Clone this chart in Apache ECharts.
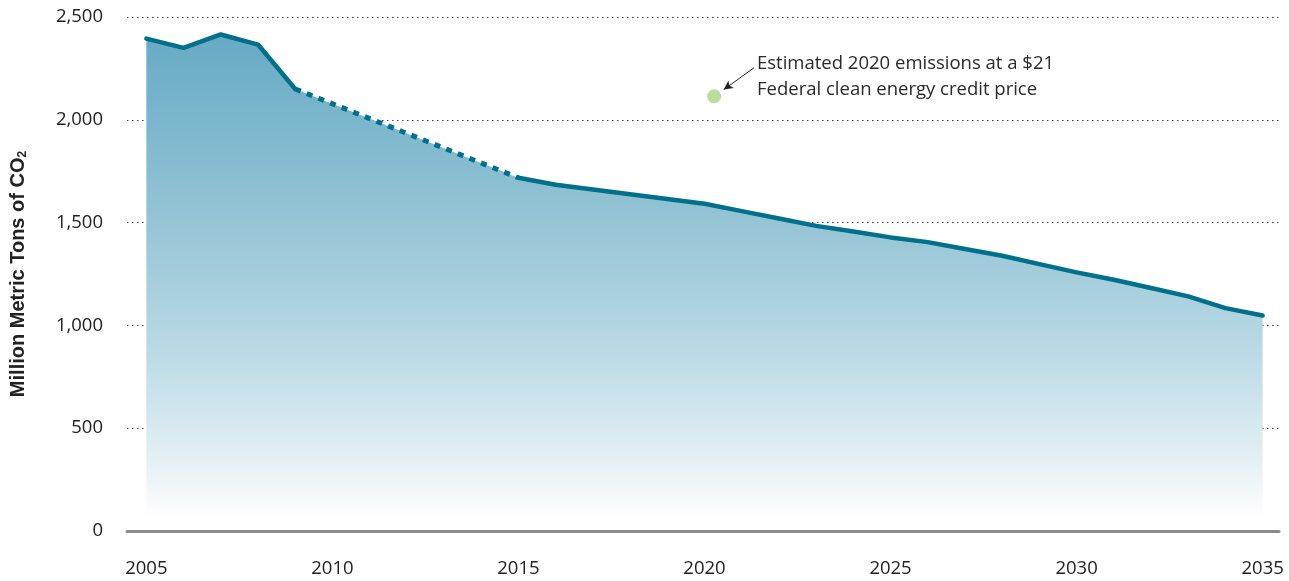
<!DOCTYPE html>
<html>
<head>
<meta charset="utf-8">
<script src="https://cdn.jsdelivr.net/npm/echarts@6/dist/echarts.min.js"></script>
<style>
  html, body { margin: 0; padding: 0; background: #fff; }
  #chart { width: 1289px; height: 581px; }
</style>
</head>
<body>
<div id="chart"></div>
<script>
// emissions, million metric tons of CO2 (2010-2014 lie on the straight dashed stretch)
const years = [2005, 2006, 2007, 2008, 2009, 2015, 2016, 2017, 2018, 2019, 2020,
  2021, 2022, 2023, 2024, 2025, 2026, 2027, 2028, 2029, 2030, 2031, 2032, 2033, 2034, 2035];
const emissions = [2395, 2350, 2415, 2366, 2150, 1718, 1684, 1661, 1638, 1615, 1592,
  1556, 1520, 1484, 1457, 1428, 1405, 1372, 1339, 1298, 1258, 1222, 1182, 1141, 1084, 1048];
const yearTicks = [2005, 2010, 2015, 2020, 2025, 2030, 2035];
const dashFrom = 2009;
const dashTo = 2015;
const estimate2020 = [2020.26, 2114];
const arrowFrom = [2021.33, 2253];
const arrowTo = [2020.52, 2147];
const noteLines = ['Estimated 2020 emissions at a $21', 'Federal clean energy credit price'];

const points = years.map((y, i) => [y, emissions[i]]);
const before = points.filter(p => p[0] <= dashFrom);
const dashed = points.filter(p => p[0] >= dashFrom && p[0] <= dashTo);
const after = points.filter(p => p[0] >= dashTo);

const lineColor = '#00708b';
const tickFont = '"Open Sans", "Noto Sans", sans-serif';
const titleFont = '"Liberation Sans", Arial, sans-serif';

const chart = echarts.init(document.getElementById('chart'));
chart.setOption({
  animation: false,
  grid: { left: 127, right: 10, top: 17, bottom: 50 },
  xAxis: {
    type: 'value',
    min: 2004.48,
    max: 2035.44,
    z: 5,
    axisLine: { lineStyle: { color: '#8c8c8c', width: 3 } },
    axisTick: { show: false },
    splitLine: { show: false },
    axisLabel: {
      customValues: yearTicks,
      margin: 28,
      fontSize: 18.5,
      color: '#222',
      fontFamily: tickFont,
      formatter: v => String(v)
    }
  },
  yAxis: {
    type: 'value',
    min: 0,
    max: 2500,
    interval: 500,
    axisLine: { show: false },
    axisTick: { show: false },
    axisLabel: {
      margin: 24,
      fontSize: 18.5,
      color: '#222',
      fontFamily: tickFont,
      formatter: v => v.toLocaleString('en-US')
    },
    splitLine: { lineStyle: { color: '#444', width: 1, type: [1.5, 3.5] } },
    name: '{a|Million Metric Tons of CO}{b|2}',
    nameLocation: 'middle',
    nameGap: 98,
    nameTextStyle: {
      rich: {
        a: { fontSize: 20, fontWeight: 'bold', color: '#222', fontFamily: titleFont },
        b: { fontSize: 12, fontWeight: 'bold', color: '#222', fontFamily: titleFont, verticalAlign: 'bottom', padding: [9, 0, 0, 0] }
      }
    }
  },
  graphic: [{
    type: 'text',
    left: 757,
    top: 51,
    style: {
      text: noteLines.join('\n'),
      font: '18.5px "Open Sans", "Noto Sans", sans-serif',
      lineHeight: 26,
      fill: '#2a2a2a'
    }
  }],
  series: [
    {
      type: 'line',
      data: points,
      symbol: 'none',
      lineStyle: { width: 0 },
      areaStyle: {
        opacity: 1,
        color: new echarts.graphic.LinearGradient(0, 0, 0, 1, [
          { offset: 0, color: '#66aac4' },
          { offset: 0.4, color: '#98c6d6' },
          { offset: 0.65, color: '#bcdbe6' },
          { offset: 0.85, color: '#e3eff4' },
          { offset: 0.975, color: '#ffffff' },
          { offset: 1, color: 'rgba(255,255,255,0)' }
        ])
      },
      z: 1
    },
    {
      type: 'line',
      data: before,
      symbol: 'none',
      lineStyle: { color: lineColor, width: 4.5, join: 'round', cap: 'round' },
      z: 3
    },
    {
      type: 'line',
      data: dashed,
      symbol: 'none',
      lineStyle: { color: lineColor, width: 5, type: [6, 6.5], cap: 'butt' },
      z: 3
    },
    {
      type: 'line',
      data: after,
      symbol: 'none',
      lineStyle: { color: lineColor, width: 4.5, join: 'round', cap: 'round' },
      z: 3
    },
    {
      type: 'scatter',
      data: [estimate2020],
      symbolSize: 14,
      itemStyle: { color: '#a8d483' },
      z: 4,
      markLine: {
        silent: true,
        symbol: ['none', 'arrow'],
        symbolSize: [7, 9],
        label: { show: false },
        lineStyle: { color: '#222', width: 1, type: 'solid' },
        data: [[{ coord: arrowFrom }, { coord: arrowTo }]]
      }
    }
  ]
});
</script>
</body>
</html>
